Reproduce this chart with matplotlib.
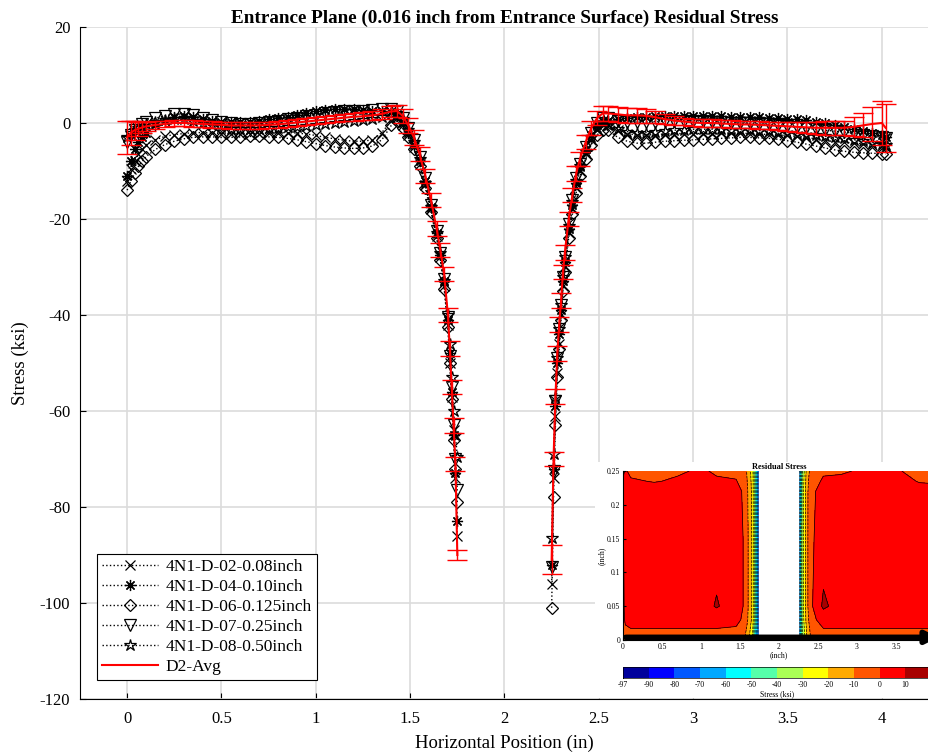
import numpy as np
import matplotlib.pyplot as plt
from matplotlib.colors import ListedColormap, BoundaryNorm

plt.rcParams['font.family'] = ['Liberation Serif', 'DejaVu Serif']
plt.rcParams['axes.unicode_minus'] = False

# ---- line profile data (ksi) ----
x_left = [0.00, 0.02, 0.04, 0.06, 0.08, 0.10, 0.15, 0.20, 0.25, 0.30, 0.35, 0.40, 0.45, 0.50,
          0.55, 0.60, 0.65, 0.70, 0.75, 0.80, 0.85, 0.90, 0.95, 1.00, 1.05, 1.10, 1.15, 1.20,
          1.25, 1.30, 1.35, 1.40, 1.43, 1.46, 1.49, 1.52, 1.55, 1.58, 1.61, 1.64, 1.66, 1.68,
          1.70, 1.71, 1.72, 1.73, 1.74, 1.75]
x_right = [2.25, 2.26, 2.27, 2.28, 2.29, 2.30, 2.31, 2.32, 2.34, 2.36, 2.38, 2.40, 2.43, 2.46,
           2.49, 2.52, 2.55, 2.60, 2.65, 2.70, 2.75, 2.80, 2.85, 2.90, 2.95, 3.00, 3.05, 3.10,
           3.15, 3.20, 3.25, 3.30, 3.35, 3.40, 3.45, 3.50, 3.55, 3.60, 3.65, 3.70, 3.75, 3.80,
           3.85, 3.90, 3.95, 4.00, 4.02]

s02_left = [-12, -9.5, -8, -6.5, -5.5, -4.5, -3.5, -2.8, -2.4, -2.2, -2.0, -2.0, -2.1, -2.2,
            -2.3, -2.3, -2.2, -2.2, -2.1, -2.0, -2.0, -2.1, -2.3, -2.6, -3.0, -3.3, -3.6, -3.8,
            -3.8, -3.5, -2.0, 0.5, 1.0, -0.5, -2.5, -5.0, -8.5, -13.0, -18.0, -23.5, -28.0, -34.0,
            -42.0, -50.0, -57.0, -64.0, -74.0, -86.0]
s04_left = [-11, -8, -5.5, -4, -3, -2, -0.5, 0.5, 1.2, 1.5, 1.2, 0.8, 0.5, 0.3,
            0.2, 0.2, 0.3, 0.5, 0.8, 1.0, 1.3, 1.6, 2.0, 2.4, 2.7, 2.9, 3.0, 3.0,
            2.8, 2.6, 2.4, 2.2, 1.5, 0.0, -2.0, -4.5, -8.0, -12.0, -17.5, -23.0, -27.5, -33.0,
            -41.0, -48.0, -56.0, -65.0, -73.0, -83.0]
s06_left = [-14, -12, -10.5, -9, -8, -7, -5.5, -4.5, -3.8, -3.3, -3.0, -2.9, -2.9, -3.0,
            -3.0, -2.9, -2.8, -2.8, -2.9, -3.0, -3.2, -3.5, -3.9, -4.3, -4.7, -5.0, -5.2, -5.3,
            -5.2, -4.8, -3.5, -0.5, 0.5, -1.0, -3.0, -5.5, -9.0, -13.5, -18.5, -24.0, -28.5, -34.5,
            -42.5, -50.0, -57.5, -66.0, -72.0, -79.0]
s07_left = [-4, -2.5, -1.5, -0.8, -0.2, 0.3, 1.0, 1.5, 1.8, 1.9, 1.6, 1.1, 0.6, 0.2,
            -0.1, -0.2, -0.2, 0.0, 0.2, 0.5, 0.8, 1.1, 1.4, 1.7, 2.0, 2.3, 2.5, 2.6,
            2.6, 2.7, 2.9, 3.0, 2.5, 1.0, -1.0, -3.5, -7.0, -11.5, -17.0, -22.5, -27.0, -32.5,
            -40.5, -48.5, -55.0, -63.0, -70.0, -76.5]
s08_left = [-3, -2.0, -1.5, -1.0, -0.6, -0.3, 0.2, 0.6, 0.8, 0.8, 0.5, 0.0, -0.5, -0.9,
            -1.2, -1.3, -1.3, -1.2, -1.1, -1.0, -0.9, -0.8, -0.6, -0.4, -0.2, 0.0, 0.2, 0.4,
            0.6, 0.9, 1.3, 1.8, 2.0, 0.8, -1.5, -4.0, -7.5, -12.5, -17.5, -23.0, -27.0, -33.0,
            -40.0, -46.0, -53.0, -60.0, -65.0, -69.5]
avg_left = [-3.0, -2.0, -1.5, -1.2, -0.9, -0.7, -0.4, -0.2, 0.0, 0.0, -0.1, -0.2, -0.3, -0.4,
            -0.5, -0.5, -0.5, -0.5, -0.4, -0.3, -0.1, 0.1, 0.3, 0.5, 0.7, 0.9, 1.1, 1.3,
            1.4, 1.6, 1.9, 2.4, 2.5, 1.5, -0.5, -3.0, -6.5, -11.0, -16.0, -22.0, -26.5, -31.5,
            -40.0, -47.0, -55.0, -63.0, -71.0, -90.0]
err_left = [3.5, 2.5, 2.0, 1.5, 1.2, 1.0, 0.8, 0.7, 0.7, 0.7, 0.7, 0.7, 0.7, 0.7,
            0.7, 0.7, 0.7, 0.7, 0.7, 0.7, 0.7, 0.7, 0.7, 0.7, 0.7, 0.7, 0.7, 0.8,
            0.8, 0.9, 1.0, 1.2, 1.2, 1.5, 1.5, 1.5, 1.5, 1.5, 1.5, 1.5, 1.5, 1.5,
            1.5, 1.5, 1.5, 1.5, 1.5, 1.0]

s02_right = [-96, -74, -61, -52, -46, -40, -34, -30, -23, -18, -13.5, -10, -6.5, -3.5,
             -1.5, -0.5, -0.5, -1.5, -2.2, -2.5, -2.5, -2.4, -2.3, -2.2, -2.2, -2.2, -2.2, -2.2,
             -2.1, -2.1, -2.1, -2.2, -2.3, -2.4, -2.5, -2.6, -2.8, -3.0, -3.3, -3.6, -3.9, -4.0,
             -4.2, -4.3, -4.5, -4.8, -5.0]
s04_right = [-92, -72, -59, -50, -44, -39, -33, -29, -22, -17, -12.5, -9, -5.5, -2.5,
             -0.5, 0.5, 0.5, 0.8, 1.0, 1.2, 1.3, 1.4, 1.4, 1.5, 1.5, 1.5, 1.5, 1.4,
             1.4, 1.3, 1.3, 1.2, 1.2, 1.1, 1.0, 0.9, 0.8, 0.6, 0.3, 0.0, -0.4, -0.8,
             -1.2, -1.6, -2.0, -2.5, -3.0]
s06_right = [-101, -78, -63, -53, -47, -41, -35, -31, -24, -19, -14.5, -11, -7.5, -4.5,
             -2.5, -1.5, -1.5, -3.0, -3.8, -4.2, -4.2, -4.0, -3.8, -3.7, -3.6, -3.5, -3.4, -3.3,
             -3.2, -3.1, -3.0, -3.0, -3.1, -3.2, -3.4, -3.7, -4.0, -4.4, -4.8, -5.2, -5.6, -5.9,
             -6.1, -6.2, -6.3, -6.4, -6.5]
s07_right = [-92.5, -72.5, -58, -49, -43, -38, -32, -28, -21, -16, -11.5, -8.5, -5, -2,
             0, 1, 1, 0.5, 0.3, 0.2, 0.2, 0.3, 0.4, 0.5, 0.5, 0.5, 0.4, 0.3,
             0.2, 0.1, 0.0, -0.1, -0.2, -0.3, -0.5, -0.7, -0.9, -1.1, -1.3, -1.5, -1.7, -1.9,
             -2.1, -2.4, -2.7, -3.0, -3.2]
s08_right = [-86.5, -69, -57, -49, -43, -38, -32, -28, -21.5, -16.5, -12, -9, -6, -3,
             -1, 0, -0.5, -1.2, -1.8, -2.0, -2.0, -1.8, -1.6, -1.5, -1.4, -1.3, -1.3, -1.3,
             -1.3, -1.4, -1.4, -1.5, -1.6, -1.7, -1.8, -2.0, -2.2, -2.4, -2.6, -2.8, -3.0, -3.2,
             -3.5, -3.8, -4.1, -4.4, -4.6]
avg_right = [-91, -70, -57, -48, -42, -37, -31, -27, -20, -15, -10.5, -7.5, -4, -1,
             1, 2, 2, 1.8, 1.6, 1.6, 1.5, 1.2, 0.8, 0.5, 0.3, 0.1, 0.0, 0.0,
             -0.1, -0.2, -0.3, -0.3, -0.4, -0.5, -0.6, -0.7, -0.8, -0.9, -1.0, -1.0, -1.0, -1.0,
             -0.8, -0.5, -0.2, 0.0, -1.0]
err_right = [3.0, 1.5, 1.5, 1.5, 1.5, 1.5, 1.5, 1.5, 1.5, 1.5, 1.5, 1.5, 1.5, 1.5,
             1.5, 1.5, 1.5, 1.5, 1.5, 1.5, 1.5, 1.2, 1.0, 1.0, 0.8, 0.8, 0.8, 0.8,
             0.8, 0.8, 0.8, 0.8, 0.8, 0.8, 0.8, 1.0, 1.0, 1.2, 1.2, 1.5, 1.5, 1.5,
             2.0, 2.5, 3.5, 4.5, 5.0]

series_labels = ['4N1-D-02-0.08inch', '4N1-D-04-0.10inch', '4N1-D-06-0.125inch',
                 '4N1-D-07-0.25inch', '4N1-D-08-0.50inch']
series_left = [s02_left, s04_left, s06_left, s07_left, s08_left]
series_right = [s02_right, s04_right, s06_right, s07_right, s08_right]
markers = ['x', (8, 2, 0), 'D', 'v', '*']
msizes = [7, 8, 6, 8, 9]

# ---- inset contour map data (ksi) ----
map_x = [0, 0.03, 0.1, 0.4, 0.7, 1.0, 1.2, 1.45, 1.54, 1.6, 1.66, 1.74,
         2.25, 2.3, 2.36, 2.42, 2.57, 2.8, 3.2, 3.5, 3.8, 4.0]
map_y = [0, 0.015, 0.03, 0.05, 0.15, 0.22, 0.235, 0.25]
map_z = [
    [-6, -5, -5, -5, -5, -5, -5, -6, -8, -16, -30, -85, -85, -45, -20, -8, -5, -5, -5, -5, -5, -5],
    [-3, -1, -0.5, -0.5, -0.5, -0.5, -0.5, -1, -4, -13, -27, -85, -85, -40, -17, -5, -0.5, -0.5, -0.5, -0.5, -0.5, -0.5],
    [-2, 1, 3, 3, 3, 3, 3, 2, -1, -10, -23, -85, -85, -37, -14, -2, 3, 3, 3, 3, 3, 3],
    [-2, 2, 5, 5, 5, 5, 11, 4, 0, -9, -22, -85, -85, -35, -12, -1, 12, 5, 5, 5, 5, 5],
    [-1, 3, 5, 5, 5, 5, 5, 4, 0, -9, -22, -85, -85, -35, -12, -1, 4, 5, 5, 5, 5, 5],
    [3, 4, 5, 4, 5, 5, 5, 4, -1, -10, -23, -85, -85, -36, -12, -2, 4, 5, 5, 5, 3, 3],
    [2, 3, 1, -0.5, 1, 3, 1, 0.5, -3, -11, -24, -85, -85, -38, -13, -3, 1, 2, 4, 3, -0.5, -1],
    [-3, 1, -2, -3, -1, 1, -1, -2, -4, -12, -25, -85, -85, -40, -15, -5, -1, -1, 2, 1, -3, -3],
]
levels = [-97, -90, -80, -70, -60, -50, -40, -30, -20, -10, 0, 10, 14]
level_colors = ['#00009c', '#0000ff', '#0058ff', '#00a8ff', '#00ffff', '#55ffaa',
                '#aaff55', '#ffff00', '#ffaa00', '#ff5500', '#ff0000', '#a80000']

fig = plt.figure(figsize=(9.29, 7.56), dpi=100)
ax = fig.add_axes([0.0861, 0.0754, 0.9139, 0.8889])

for i in range(5):
    for xs, ys in ((x_left, series_left[i]), (x_right, series_right[i])):
        ax.plot(xs, ys, color='k', ls=':', lw=1, marker=markers[i], ms=msizes[i],
                mfc='none', mec='k', mew=0.9,
                label=series_labels[i] if xs is x_left else None)

for xs, ys, es in ((x_left, avg_left, err_left), (x_right, avg_right, err_right)):
    ax.errorbar(xs, ys, yerr=es, fmt='none', ecolor='red', elinewidth=1,
                capsize=7, capthick=1, zorder=3)
    ax.plot(xs, ys, color='red', lw=1.5, zorder=3,
            label='D2-Avg' if xs is x_left else None)

ax.set_xlim(-0.25, 4.25)
ax.set_ylim(-120, 20)
ax.set_xticks([0, 0.5, 1, 1.5, 2, 2.5, 3, 3.5, 4])
ax.set_xticklabels(['0', '0.5', '1', '1.5', '2', '2.5', '3', '3.5', '4'])
ax.set_yticks(range(-120, 21, 20))
ax.tick_params(direction='in', length=4, labelsize=12, colors='k')
ax.tick_params(axis='x', pad=9)
ax.tick_params(axis='y', pad=7)
ax.grid(True, color='#dcdcdc', lw=1.2)
ax.set_axisbelow(True)
for s in ('top', 'right'):
    ax.spines[s].set_visible(False)
ax.set_title('Entrance Plane (0.016 inch from Entrance Surface) Residual Stress',
             fontsize=13.8, fontweight='bold', pad=3)
ax.set_xlabel('Horizontal Position (in)', fontsize=13.5, labelpad=5)
ax.set_ylabel('Stress (ksi)', fontsize=13.5, labelpad=8)

leg = ax.legend(loc='lower left', bbox_to_anchor=(0.02, 0.028), borderaxespad=0,
                fontsize=12.5, handlelength=3.2, handletextpad=0.45, labelspacing=0.22,
                numpoints=1, fancybox=False, framealpha=1, edgecolor='k',
                borderpad=0.3)
leg.get_frame().set_linewidth(0.8)

# ---- inset ----
bg = fig.add_axes([0.6405, 0.0770, 0.3595, 0.3118])
bg.axis('off')
bg.add_patch(plt.Rectangle((0, 0), 1, 1, transform=bg.transAxes, color='white'))

cmap = ListedColormap(level_colors)
norm = BoundaryNorm(levels, cmap.N)
axi = fig.add_axes([0.6706, 0.1534, 0.3358, 0.2235])
cf = axi.contourf(map_x, map_y, map_z, levels=levels, cmap=cmap, norm=norm)
axi.contour(map_x, map_y, map_z, levels=levels, colors='k', linewidths=0.5)
axi.axvspan(1.74, 2.24, color='white', zorder=3)
axi.set_xlim(0, 4)
axi.set_ylim(0, 0.25)
axi.set_xticks([0, 0.5, 1, 1.5, 2, 2.5, 3, 3.5])
axi.set_xticklabels(['0', '0.5', '1', '1.5', '2', '2.5', '3', '3.5'])
axi.set_yticks([0, 0.05, 0.1, 0.15, 0.2, 0.25])
axi.set_yticklabels(['0', '0.05', '0.1', '0.15', '0.2', '0.25'])
axi.tick_params(labelsize=5.5, length=2, direction='in', pad=2)
axi.set_title('Residual Stress', fontsize=6, fontweight='bold', pad=1)
axi.set_xlabel('(inch)', fontsize=5.5, labelpad=0)
axi.set_ylabel('(inch)', fontsize=5.5, labelpad=1)
for s in ('top', 'right'):
    axi.spines[s].set_visible(False)
axi.annotate('', xy=(4.08, 0.004), xytext=(0, 0.004),
             arrowprops=dict(arrowstyle='-|>', lw=4, color='k', mutation_scale=18),
             annotation_clip=False)

cax = fig.add_axes([0.6706, 0.1032, 0.3315, 0.0146])
cb = fig.colorbar(cf, cax=cax, orientation='horizontal', spacing='uniform', ticks=levels)
cb.ax.set_xticklabels([str(v) for v in levels])
cb.ax.tick_params(labelsize=5.5, length=0, pad=2)
cb.outline.set_linewidth(0.5)
cb.set_label('Stress (ksi)', fontsize=5.5, labelpad=1)

fig.savefig('out.png', dpi=100)
